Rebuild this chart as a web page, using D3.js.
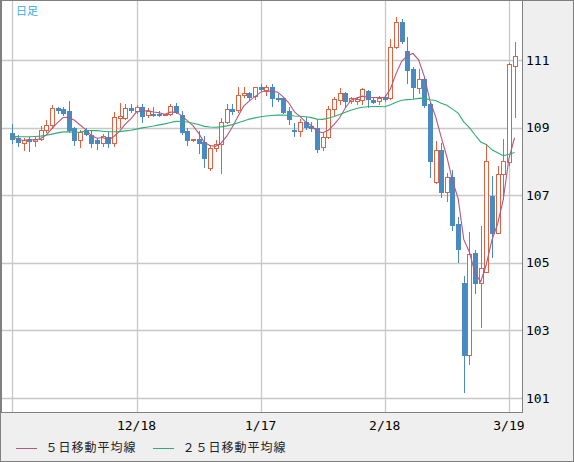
<!DOCTYPE html>
<html><head><meta charset="utf-8">
<script src="https://cdn.jsdelivr.net/npm/d3@7"></script>
<style>html,body{margin:0;padding:0;background:#efefef;}svg{display:block;}</style>
</head><body>
<svg id="c" width="574" height="462"></svg>
<script>
const dates = ["11/18","11/19","11/20","11/21","11/22","11/25","11/26","11/27","11/28","11/29",
"12/2","12/3","12/4","12/5","12/6","12/9","12/10","12/11","12/12","12/13",
"12/16","12/17","12/18","12/19","12/20","12/23","12/24","12/25","12/26","12/27",
"12/30","12/31","1/1","1/2","1/3","1/6","1/7","1/8","1/9","1/10",
"1/13","1/14","1/15","1/16","1/17","1/20","1/21","1/22","1/23","1/24",
"1/27","1/28","1/29","1/30","1/31","2/3","2/4","2/5","2/6","2/7",
"2/10","2/11","2/12","2/13","2/14","2/17","2/18","2/19","2/20","2/21",
"2/24","2/25","2/26","2/27","2/28","3/2","3/3","3/4","3/5","3/6",
"3/9","3/10","3/11","3/12","3/13","3/16","3/17","3/18","3/19","3/20"];
const opens = [108.83,108.68,108.55,108.64,108.59,108.66,108.92,109.07,109.57,109.55,
109.48,108.98,108.64,108.92,108.78,108.63,108.54,108.73,108.55,109.29,
109.28,109.59,109.49,109.61,109.37,109.40,109.40,109.38,109.39,109.65,
109.37,108.90,108.63,108.66,108.58,107.80,108.39,108.51,109.16,109.55,
109.52,109.96,110.03,109.93,110.21,110.09,110.21,109.89,109.88,109.49,
108.92,108.91,109.16,109.05,108.99,108.42,108.71,109.54,109.82,110.03,
109.78,109.78,109.82,110.08,109.82,109.80,109.90,109.87,111.38,112.12,
111.28,110.73,110.18,110.44,109.70,107.38,108.35,107.10,107.55,106.14,
104.41,102.28,105.30,104.41,104.74,106.98,105.87,107.63,107.99,110.83];
const highs = [109.12,108.78,108.70,108.73,108.74,109.05,109.24,109.67,109.60,109.62,
109.78,109.03,108.93,108.99,108.94,108.68,108.82,108.88,109.47,109.72,
109.69,109.70,109.66,109.69,109.58,109.60,109.48,109.41,109.70,109.72,
109.50,108.98,108.67,108.90,108.76,108.48,108.63,109.27,109.70,109.70,
110.20,110.21,110.06,110.21,110.30,110.26,110.29,110.00,109.91,109.62,
109.14,109.26,109.30,109.17,109.26,108.83,109.63,109.91,110.17,110.05,
109.92,109.92,110.18,110.12,109.87,109.94,109.93,111.61,112.26,112.20,
111.69,110.80,110.74,110.50,109.72,108.60,108.54,107.65,107.75,106.35,
104.61,105.92,105.38,106.10,108.51,107.58,107.86,108.65,110.90,111.54];
const lows = [108.54,108.46,108.34,108.30,108.47,108.62,108.88,108.98,109.44,109.36,
108.88,108.50,108.42,108.78,108.44,108.36,108.46,108.44,108.46,109.02,
109.25,109.47,109.42,109.17,109.30,109.33,109.33,109.36,109.36,109.44,
108.80,108.49,108.60,108.25,107.84,107.76,108.32,107.65,109.13,109.40,
109.47,109.90,109.82,109.85,110.12,109.96,109.63,109.80,109.42,109.10,
108.75,108.75,108.95,108.89,108.29,108.34,108.70,109.37,109.70,109.62,
109.72,109.70,109.70,109.62,109.72,109.70,109.80,109.84,111.35,111.49,
110.31,109.87,110.01,109.62,107.53,107.35,106.96,106.84,105.97,105.01,
101.19,102.00,104.10,103.11,104.74,105.16,105.87,106.90,107.90,109.32];
const closes = [108.66,108.56,108.64,108.61,108.67,108.92,109.07,109.57,109.51,109.42,
108.94,108.64,108.88,108.82,108.55,108.54,108.74,108.55,109.31,109.35,
109.57,109.51,109.60,109.35,109.49,109.37,109.38,109.40,109.65,109.47,
108.88,108.64,108.65,108.55,108.11,108.40,108.51,109.16,109.55,109.50,
109.96,110.03,109.91,110.19,110.15,110.21,109.87,109.84,109.47,109.25,
108.90,109.16,109.03,108.98,108.36,108.71,109.54,109.84,110.01,109.80,
109.87,109.84,110.14,109.84,109.76,109.88,109.85,111.38,112.12,111.57,
110.70,110.19,110.44,109.67,108.02,108.35,107.10,107.55,106.12,105.41,
102.28,105.25,104.41,104.84,108.01,105.87,107.62,108.02,110.87,111.12];
// closes of the 24 trading days before the first candle (for the moving averages)
const priorCloses = [108.86,108.76,108.66,108.44,108.61,108.48,108.69,108.61,108.66,108.97,
108.88,108.78,108.03,108.20,108.60,109.17,108.98,109.27,109.26,109.04,109.00,108.82,108.43,108.80];
const yTicks = [101,103,105,107,109,111];
const xTickDates = ["11/18","12/18","1/17","2/18","3/19"];
const maPeriods = [5,25];
const legendLabels = ["５日移動平均線","２５日移動平均線"];
const titleLabel = "日足";

const svg = d3.select("#c");
const W = 574, H = 462;
const plot = {l:1, r:523, t:1, b:412};
const x = d3.scaleLinear().domain([-2.02, 90.5]).range([plot.l, plot.r]);
const y = d3.scaleLinear().domain([100.586, 112.746]).range([plot.b, plot.t]);

svg.append("rect").attr("x",0.5).attr("y",0.5).attr("width",W-1).attr("height",H-1)
  .attr("fill","#efefef").attr("stroke","#808080");
svg.append("rect").attr("x",plot.l+0.5).attr("y",plot.t-0.5).attr("width",plot.r-plot.l-1).attr("height",plot.b-plot.t+1)
  .attr("fill","#ffffff").attr("stroke","#808080");
svg.append("line").attr("x1",0.5).attr("x2",0.5).attr("y1",0).attr("y2",plot.b).attr("stroke","#808080").attr("stroke-width",2);

const defs = svg.append("defs");
defs.append("clipPath").attr("id","pc").append("rect")
  .attr("x",plot.l+1).attr("y",plot.t).attr("width",plot.r-plot.l-2).attr("height",plot.b-plot.t);

const g = svg.append("g").attr("clip-path","url(#pc)");

// grid
const xTickIdx = xTickDates.map(d => dates.indexOf(d));
g.selectAll(".vg").data(xTickIdx).enter().append("line")
  .attr("x1",d=>Math.round(x(d))+0.5).attr("x2",d=>Math.round(x(d))+0.5)
  .attr("y1",plot.t).attr("y2",plot.b).attr("stroke","#c8c8c8").attr("stroke-width",1.3);
g.selectAll(".hg").data(yTicks).enter().append("line")
  .attr("y1",d=>Math.round(y(d))+0.5).attr("y2",d=>Math.round(y(d))+0.5)
  .attr("x1",plot.l).attr("x2",plot.r).attr("stroke","#c8c8c8").attr("stroke-width",1.3);

// candles
const data = dates.map((d,i)=>({i, o:opens[i], h:highs[i], l:lows[i], c:closes[i]}));
const up = "#dd6342", dn = "#4a8ac2";
const cg = g.append("g");
data.forEach(d => {
  const cx = Math.round(x(d.i));
  const isUp = d.c >= d.o;
  const col = isUp ? up : dn;
  cg.append("line").attr("x1",cx+0.5).attr("x2",cx+0.5)
    .attr("y1",Math.round(y(d.h))).attr("y2",Math.round(y(d.l))+1)
    .attr("stroke",col).attr("stroke-width",1);
  const yt = Math.round(y(Math.max(d.o,d.c))), yb = Math.round(y(Math.min(d.o,d.c)));
  if (isUp) {
    cg.append("rect").attr("x",cx-1.5).attr("y",yt+0.5).attr("width",4).attr("height",Math.max(yb-yt,1))
      .attr("fill","#ffffff").attr("stroke",col).attr("stroke-width",1);
  } else {
    cg.append("rect").attr("x",cx-2).attr("y",yt).attr("width",5).attr("height",Math.max(yb-yt,1)+1)
      .attr("fill",col);
  }
});

// moving averages
const allCloses = priorCloses.concat(closes);
const off = priorCloses.length;
const maColors = ["#b5577f","#2fae72"];
maPeriods.forEach((p,k) => {
  const pts = data.map(d => {
    const j = d.i + off;
    return [d.i, d3.mean(allCloses.slice(j-p+1, j+1))];
  });
  g.append("path").datum(pts)
    .attr("d", d3.line().x(d=>x(d[0])).y(d=>y(d[1])))
    .attr("fill","none").attr("stroke",maColors[k]).attr("stroke-width",1.1);
});

// y labels
svg.selectAll(".yl").data(yTicks).enter().append("text")
  .attr("x",526).attr("y",d=>y(d)).attr("dy","0.36em")
  .attr("font-family","'DejaVu Sans Mono', monospace").attr("font-size",13).attr("fill","#000")
  .text(d=>d);
// x labels
svg.selectAll(".xl").data(xTickIdx.filter(i => x(i) - 20 > 0)).enter().append("text")
  .attr("x",d=>x(d)).attr("y",425).attr("dy","0.36em").attr("text-anchor","middle")
  .attr("font-family","'DejaVu Sans Mono', monospace").attr("font-size",13).attr("fill","#000")
  .text(d=>dates[d]);

// title
svg.append("text").attr("x",16).attr("y",15).attr("font-family","'Noto Sans CJK JP', sans-serif")
  .attr("font-size",11).attr("fill","#38ace6").text(titleLabel);

// legend
const legX = [16, 153];
legendLabels.forEach((t,k) => {
  svg.append("line").attr("x1",legX[k]).attr("x2",legX[k]+21).attr("y1",448.5).attr("y2",448.5)
    .attr("stroke",maColors[k]).attr("stroke-width",1);
  svg.append("text").attr("x",legX[k]+29.5).attr("y",448).attr("dy","0.36em")
    .attr("font-family","'Noto Sans CJK JP', sans-serif").attr("font-size",12)
    .attr("letter-spacing","1px").attr("fill","#222").text(t);
});
</script>
</body></html>
